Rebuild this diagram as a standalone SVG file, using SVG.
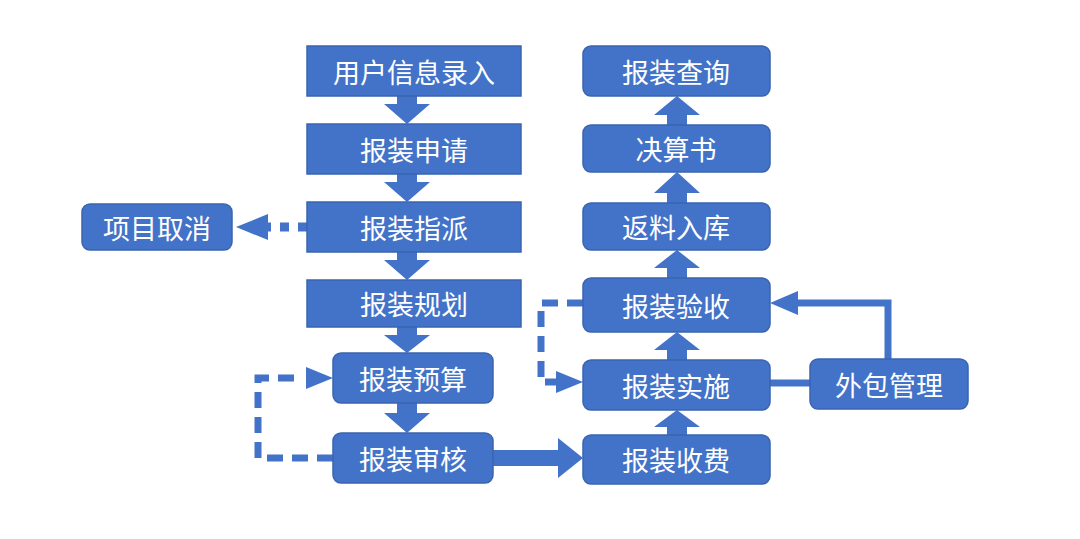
<svg xmlns="http://www.w3.org/2000/svg" width="1080" height="539" viewBox="0 0 1080 539">
<defs>
<style>
.b{fill:#4273c8;stroke:#3a64b0;stroke-width:1.5}
.t{fill:#fff;font-family:"Noto Sans CJK SC",sans-serif;font-size:27px;text-anchor:middle;dominant-baseline:central}
.a{fill:#4273c8}
.d{fill:none;stroke:#4273c8;stroke-width:7;stroke-dasharray:16 9}
.s{fill:none;stroke:#4273c8;stroke-width:7}
</style>
</defs>
<rect width="1080" height="539" fill="#fff"/>
<g id="connectors">
<path class="a" d="M397,96h20v8h13l-23,20l-23,-20h13z"/>
<path class="a" d="M397,174h20v8h13l-23,20l-23,-20h13z"/>
<path class="a" d="M397,252h20v8h13l-23,20l-23,-20h13z"/>
<path class="a" d="M397,327h20v8h13l-23,18l-23,-18h13z"/>
<path class="a" d="M397,403h20v10h13l-23,20l-23,-20h13z"/>
<path class="a" d="M493,450h65v-12l25,20l-25,20v-12h-65z"/>
<path fill="none" stroke="#4273c8" stroke-width="9" stroke-dasharray="9 9" d="M307,227H268"/>
<path class="a" d="M268,214v26l-32,-13z"/>
<path class="d" d="M333,458H258V378h45"/>
<path class="a" d="M306,367v22l27,-11z"/>
<path class="d" d="M583,303H541V382h16"/>
<path class="a" d="M556,371v22l27,-11z"/>
<path class="a" d="M667,435v-8h-13l23,-17l23,17h-13v8z"/>
<path class="a" d="M667,360v-10h-13l23,-18l23,18h-13v10z"/>
<path class="a" d="M667,278v-10h-13l23,-18l23,18h-13v10z"/>
<path class="a" d="M667,203v-10h-13l23,-21l23,21h-13v10z"/>
<path class="a" d="M667,125v-10h-13l23,-19l23,19h-13v10z"/>
<path class="s" d="M770,383H810"/>
<path class="s" d="M888,359V303H795"/>
<path class="a" d="M798,291v24l-28,-12z"/>
</g>
<g id="n1"><rect class="b" x="307" y="46" width="214" height="50"/><text class="t" x="414" y="71">用户信息录入</text></g>
<g id="n2"><rect class="b" x="307" y="124" width="214" height="50"/><text class="t" x="414" y="149">报装申请</text></g>
<g id="n3"><rect class="b" x="307" y="202" width="214" height="50"/><text class="t" x="414" y="227">报装指派</text></g>
<g id="n4"><rect class="b" x="307" y="280" width="214" height="47"/><text class="t" x="414" y="303">报装规划</text></g>
<g id="n5"><rect class="b" x="333" y="353" width="160" height="50" rx="8"/><text class="t" x="413" y="378">报装预算</text></g>
<g id="n6"><rect class="b" x="333" y="433" width="160" height="50" rx="8"/><text class="t" x="413" y="458">报装审核</text></g>
<g id="n7"><rect class="b" x="82" y="204" width="150" height="46" rx="8"/><text class="t" x="157" y="227">项目取消</text></g>
<g id="n8"><rect class="b" x="583" y="46" width="187" height="50" rx="8"/><text class="t" x="676" y="71">报装查询</text></g>
<g id="n9"><rect class="b" x="583" y="125" width="187" height="47" rx="8"/><text class="t" x="676" y="148">决算书</text></g>
<g id="n10"><rect class="b" x="583" y="203" width="187" height="47" rx="8"/><text class="t" x="676" y="226">返料入库</text></g>
<g id="n11"><rect class="b" x="583" y="278" width="187" height="54" rx="8"/><text class="t" x="676" y="305">报装验收</text></g>
<g id="n12"><rect class="b" x="583" y="360" width="187" height="50" rx="8"/><text class="t" x="676" y="385">报装实施</text></g>
<g id="n13"><rect class="b" x="583" y="435" width="187" height="49" rx="8"/><text class="t" x="676" y="459">报装收费</text></g>
<g id="n14"><rect class="b" x="810" y="359" width="158" height="50" rx="8"/><text class="t" x="889" y="384">外包管理</text></g>
</svg>
